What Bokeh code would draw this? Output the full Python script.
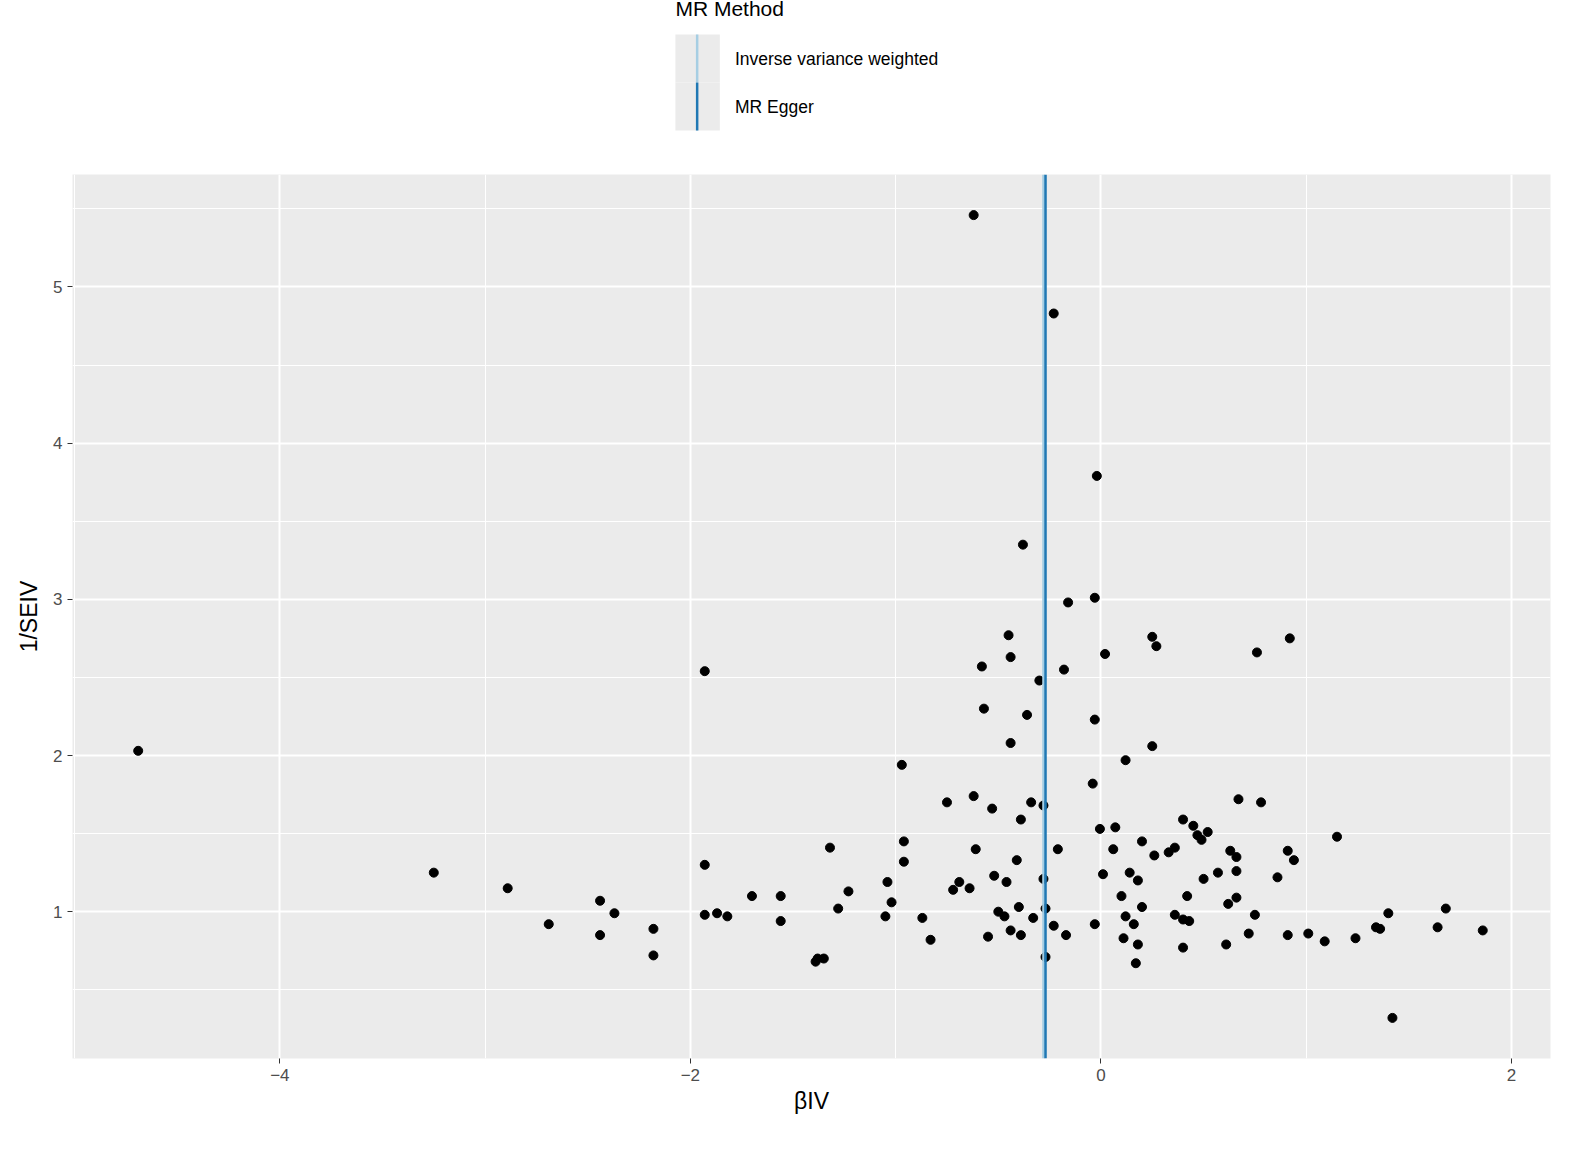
from bokeh.plotting import figure
from bokeh.layouts import column
from bokeh.models import Label, Span, FixedTicker
from bokeh.embed import file_html
from bokeh.resources import INLINE

beta_iv = [-4.69,-0.62,-0.23,-0.02,-0.38,-0.03,-0.16,-0.45,0.25,0.92,0.27,0.02,0.76,-0.58,-0.44,-0.18,-1.93,-0.30,
-0.57,-0.36,-0.03,-0.44,0.25,0.12,-0.97,-0.04,-0.62,-0.75,-0.34,0.67,0.78,-0.53,-0.28,-0.39,0.40,0.45,-0.005,0.07,
0.47,0.52,0.49,1.15,-0.96,0.20,-1.32,0.36,-0.21,-0.61,0.06,0.33,0.63,0.91,0.26,0.66,-0.41,-0.96,0.94,-1.93,0.66,
-3.25,0.14,0.01,-0.52,0.57,0.86,-0.28,-0.69,0.50,0.18,-0.46,-1.04,-2.89,-0.64,-0.72,-1.23,-1.70,-1.56,0.10,0.42,
0.66,-1.02,-2.44,0.62,-0.40,0.20,-0.27,-1.28,1.68,-0.50,-2.37,-1.87,1.40,-1.93,0.75,-1.82,0.36,-0.47,-1.05,0.12,
-0.87,-0.33,0.40,0.43,-1.56,-2.69,0.16,-0.23,-0.03,1.34,1.64,1.36,-2.18,-0.44,1.86,0.91,0.72,1.01,-0.17,-0.39,
-2.44,-0.55,1.24,0.11,-0.83,1.09,0.18,0.61,0.40,-2.18,-0.27,-1.35,-1.38,-1.39,0.17,1.42]
inv_se = [2.03,5.46,4.83,3.79,3.35,3.01,2.98,2.77,2.76,2.75,2.70,2.65,2.66,2.57,2.63,2.55,2.54,2.48,
2.30,2.26,2.23,2.08,2.06,1.97,1.94,1.82,1.74,1.70,1.70,1.72,1.70,1.66,1.68,1.59,1.59,1.55,1.53,1.54,
1.49,1.51,1.46,1.48,1.45,1.45,1.41,1.41,1.40,1.40,1.40,1.38,1.39,1.39,1.36,1.35,1.33,1.32,1.33,1.30,1.26,
1.25,1.25,1.24,1.23,1.25,1.22,1.21,1.19,1.21,1.20,1.19,1.19,1.15,1.15,1.14,1.13,1.10,1.10,1.10,1.10,
1.09,1.06,1.07,1.05,1.03,1.03,1.02,1.02,1.02,1.00,0.99,0.99,0.99,0.98,0.98,0.97,0.98,0.97,0.97,0.97,
0.96,0.96,0.95,0.94,0.94,0.92,0.92,0.91,0.92,0.90,0.90,0.89,0.89,0.88,0.88,0.85,0.86,0.86,0.85,0.85,
0.85,0.84,0.83,0.83,0.82,0.81,0.79,0.79,0.77,0.72,0.71,0.70,0.70,0.68,0.67,0.32]
methods = ["Inverse variance weighted", "MR Egger"]
method_estimates = [-0.28, -0.27]
method_colors = ["#a6cee3", "#1f78b4"]
x_ticks = [-4, -2, 0, 2]
y_ticks = [1, 2, 3, 4, 5]

FONT = "Liberation Sans"
W = 1564

# legend figure (no axes so the frame fills the canvas)
lg = figure(width=W, height=170, x_range=(0, W), y_range=(0, 170),
            x_axis_location=None, y_axis_location=None,
            output_backend="svg", toolbar_location=None, min_border=0)
lg.grid.visible = False
lg.outline_line_color = None
lg.background_fill_color = "white"
lg.add_layout(Label(x=638, y=162, text="MR Method", text_font=FONT, text_font_size="21px",
                    text_baseline="middle", text_color="black"))
for i, (m, c) in enumerate(zip(methods, method_colors)):
    top = 136 - i * 48
    lg.quad(left=638, right=685, top=top, bottom=top - 48, fill_color="#EBEBEB", line_color=None)
    lg.segment(x0=661, y0=top, x1=661, y1=top - 48, line_color=c, line_width=2.5)
    lg.add_layout(Label(x=701, y=top - 24, text=m, text_font=FONT, text_font_size="17.5px",
                        text_baseline="middle", text_color="black"))

p = figure(width=W, height=958, x_range=(-5.01, 2.19), y_range=(0.06, 5.72),
           output_backend="svg", toolbar_location=None,
           min_border_left=72, min_border_right=14, min_border_top=4, min_border_bottom=70)
p.background_fill_color = "#EBEBEB"
p.outline_line_color = None
p.xaxis.ticker = FixedTicker(ticks=x_ticks, minor_ticks=[-5, -3, -1, 1])
p.yaxis.ticker = FixedTicker(ticks=y_ticks, minor_ticks=[0.5, 1.5, 2.5, 3.5, 4.5, 5.5])
p.xaxis.major_label_overrides = {-4: "−4", -2: "−2", 0: "0", 2: "2"}
for ax in (p.xaxis, p.yaxis):
    ax.axis_line_color = None
    ax.major_tick_line_color = "#333333"
    ax.major_tick_in = 0
    ax.major_tick_out = 5
    ax.minor_tick_line_color = None
    ax.major_label_text_font = FONT
    ax.major_label_text_font_size = "17px"
    ax.major_label_text_color = "#4D4D4D"
    ax.axis_label_text_font = FONT
    ax.axis_label_text_font_size = "23px"
    ax.axis_label_text_font_style = "normal"
    ax.axis_label_text_color = "black"
p.xaxis.axis_label = "βIV"
p.yaxis.axis_label = "1/SEIV"
p.xaxis.axis_label_standoff = 4
p.yaxis.axis_label_standoff = 8
p.grid.grid_line_color = "white"
p.grid.grid_line_width = 2
p.grid.minor_grid_line_color = "white"
p.grid.minor_grid_line_width = 1

for est, c in zip(method_estimates, method_colors):
    p.add_layout(Span(location=est, dimension="height", line_color=c, line_width=2.5))
p.scatter(beta_iv, inv_se, size=9, color="black")

layout = column(lg, p, spacing=0)
open("out.html", "w").write(file_html(layout, INLINE))
